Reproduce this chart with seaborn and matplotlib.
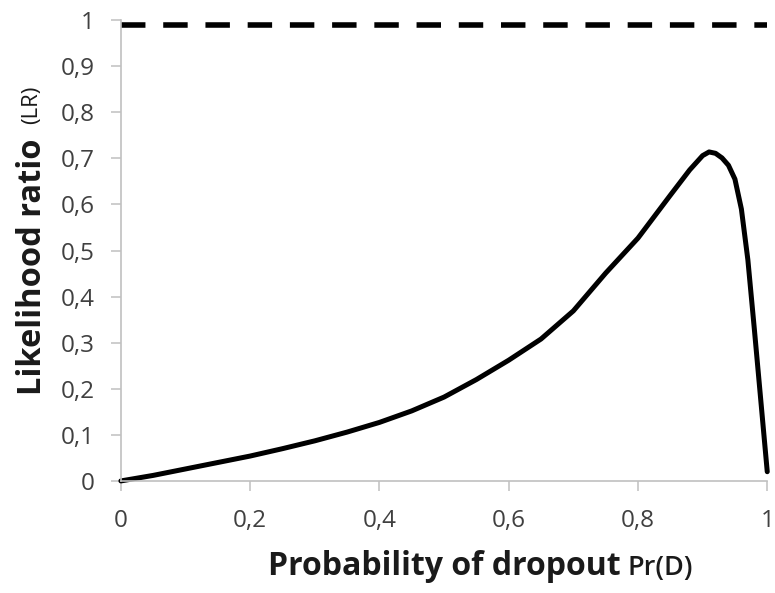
import matplotlib
matplotlib.use("Agg")
import matplotlib.pyplot as plt
import seaborn as sns
import pandas as pd

# ---- data ----
pr_dropout = [0, 0.05, 0.1, 0.15, 0.2, 0.25, 0.3, 0.35, 0.4, 0.45, 0.5, 0.55,
              0.6, 0.65, 0.7, 0.75, 0.8, 0.85, 0.88, 0.9, 0.91, 0.92, 0.93,
              0.94, 0.95, 0.96, 0.97, 0.98, 0.99, 1.0]
lr_values = [0, 0.012, 0.026, 0.04, 0.054, 0.07, 0.087, 0.106, 0.127, 0.152,
             0.182, 0.22, 0.262, 0.308, 0.369, 0.451, 0.527, 0.62, 0.675, 0.706,
             0.714, 0.711, 0.701, 0.685, 0.655, 0.59, 0.48, 0.33, 0.175, 0.02]
ref_x = [0, 1.0]
ref_lr = [0.99, 0.99]

x_ticks = [0, 0.2, 0.4, 0.6, 0.8, 1.0]
x_tick_labels = ["0", "0,2", "0,4", "0,6", "0,8", "1"]
y_ticks = [0, 0.1, 0.2, 0.3, 0.4, 0.5, 0.6, 0.7, 0.8, 0.9, 1.0]
y_tick_labels = ["0", "0,1", "0,2", "0,3", "0,4", "0,5", "0,6", "0,7", "0,8", "0,9", "1"]

curve = pd.DataFrame({"x": pr_dropout, "y": lr_values})
ref = pd.DataFrame({"x": ref_x, "y": ref_lr})

sns.set_theme(style="white")
plt.rcParams["font.family"] = ["Open Sans", "DejaVu Sans"]

fig = plt.figure(figsize=(7.75, 5.93), dpi=100)
ax = fig.add_axes([0.156, 0.189, 0.834, 0.777])

sns.lineplot(data=ref, x="x", y="y", ax=ax, color="black", linewidth=4,
             clip_on=False)
ax.lines[-1].set_dashes([4.4, 3.2])
ax.lines[-1].set_dash_capstyle("butt")
sns.lineplot(data=curve, x="x", y="y", ax=ax, color="black", linewidth=3.6,
             clip_on=False)
ax.lines[-1].set_solid_joinstyle("round")

ax.set_xlim(0, 1)
ax.set_ylim(0, 1)
ax.set_xticks(x_ticks)
ax.set_xticklabels(x_tick_labels)
ax.set_yticks(y_ticks)
ax.set_yticklabels(y_tick_labels)

for side in ["top", "right"]:
    ax.spines[side].set_visible(False)
for side in ["left", "bottom"]:
    ax.spines[side].set_color("#c0c0c0")
    ax.spines[side].set_linewidth(1.2)

ax.tick_params(axis="both", which="major", direction="out", length=7,
               width=1.1, color="#c0c0c0", labelsize=17.5, labelcolor="#404040",
               left=True, bottom=True)
ax.tick_params(axis="x", pad=13)
ax.tick_params(axis="y", pad=12)

ax.set_xlabel("")
ax.set_ylabel("")

W, H = 775.0, 593.0
# x axis label: bold part + smaller part
t1 = fig.text(268 / W, 1 - 575 / H, "Probability of dropout", fontsize=23,
              fontweight="bold", color="#1a1a1a", ha="left", va="baseline")
ax.annotate("Pr(D)", xy=(1, 0), xycoords=t1, xytext=(5, 1),
            textcoords="offset points", fontsize=19.5, fontweight="semibold",
            color="#1a1a1a", ha="left", va="bottom")

# y axis label
fig.text(41 / W, 1 - 395 / H, "Likelihood ratio", fontsize=23.5,
         fontweight="bold", color="#1a1a1a", rotation=90,
         rotation_mode="anchor", ha="left", va="baseline")
fig.text(37 / W, 1 - 124 / H, "(LR)", fontsize=16, color="#1a1a1a",
         rotation=90, rotation_mode="anchor", ha="left", va="baseline")

fig.savefig("out.png", dpi=100)
